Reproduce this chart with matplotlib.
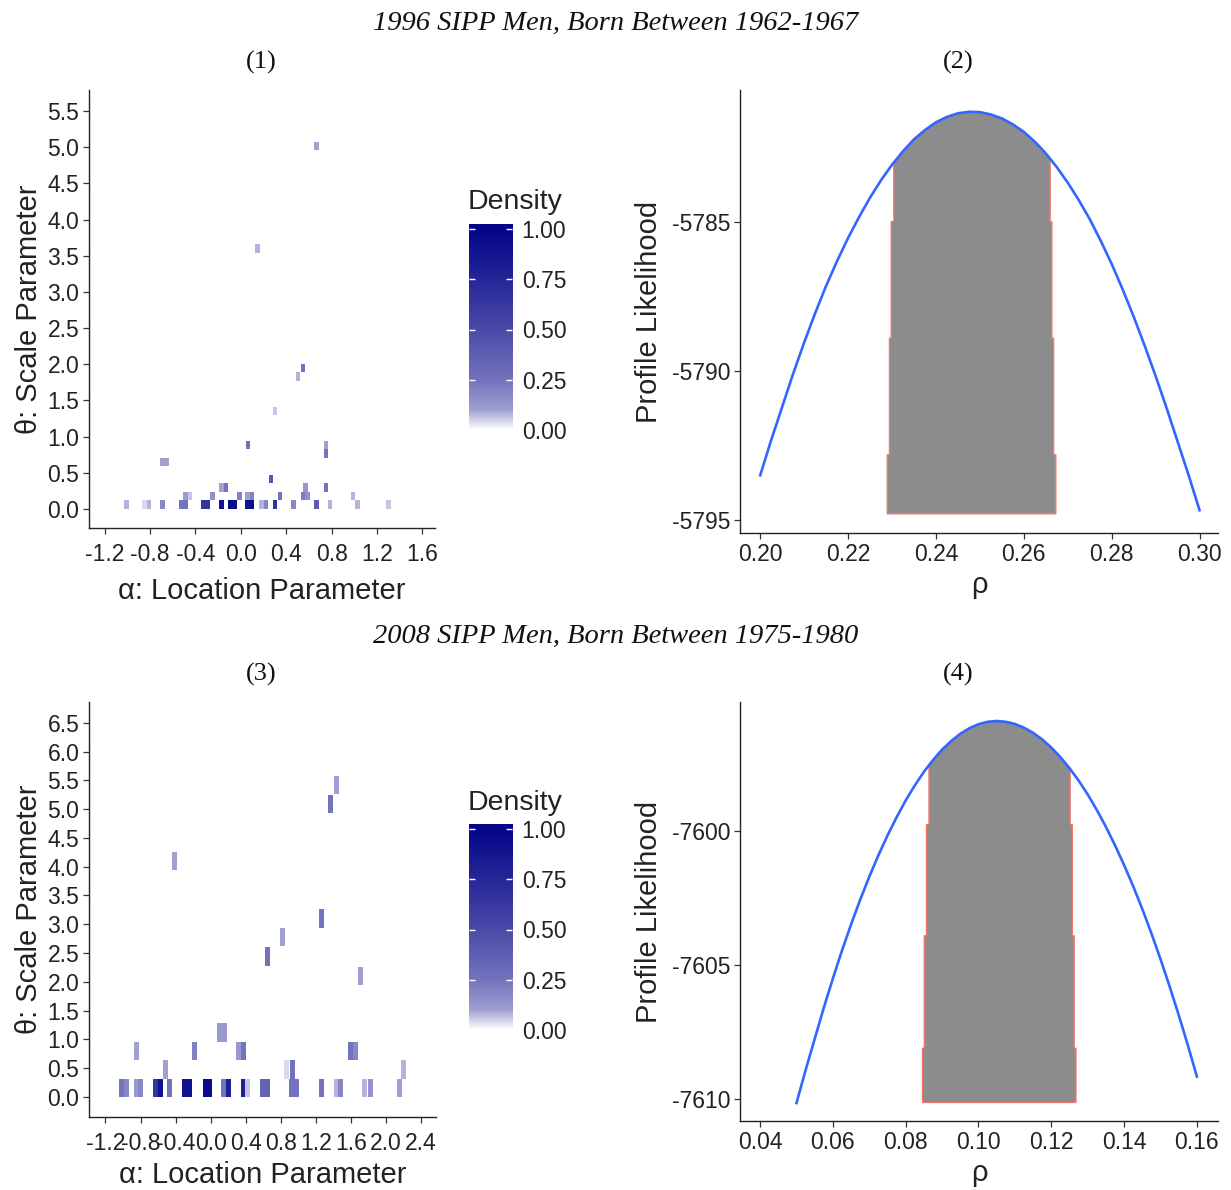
import numpy as np
import matplotlib
matplotlib.use("Agg")
import matplotlib.pyplot as plt
from matplotlib.colors import LinearSegmentedColormap, Normalize
from matplotlib.patches import Rectangle, Polygon
from matplotlib.collections import PatchCollection

plt.rcParams['font.family'] = ['Liberation Sans', 'DejaVu Sans']
plt.rcParams['axes.unicode_minus'] = False

# ---- panel (1): 1996 heatmap tiles (alpha, theta, density) ----
alpha_96 = [-1.01, -0.85, -0.81, -0.69, -0.525, -0.485, -0.33, -0.29, -0.17, -0.09, -0.05,
            0.06, 0.10, 0.18, 0.22, 0.30, 0.465, 0.665, 0.785, 1.03, 1.30,
            -0.49, -0.45, -0.25, -0.01, 0.06, 0.10, 0.345, 0.55, 0.59, 0.99,
            -0.17, -0.13, 0.57, 0.75,
            0.265, -0.69, -0.65, 0.75, 0.065, 0.75,
            0.30, 0.505, 0.55, 0.145, 0.665]
theta_96 = [0.059] * 21 + [0.177] * 10 + [0.295] * 4 + \
           [0.413, 0.649, 0.649, 0.767, 0.885, 0.885,
            1.357, 1.829, 1.947, 3.599, 5.015]
dens_96 = [0.08, 0.04, 0.08, 0.18, 0.25, 0.25, 0.65, 0.65, 0.90, 0.95, 0.95,
           0.90, 0.95, 0.08, 0.18, 0.65, 0.18, 0.40, 0.08, 0.08, 0.06,
           0.12, 0.06, 0.15, 0.20, 0.10, 0.20, 0.25, 0.22, 0.15, 0.08,
           0.10, 0.25, 0.13, 0.25,
           0.40, 0.10, 0.10, 0.25, 0.25, 0.10,
           0.06, 0.08, 0.25, 0.08, 0.10]

# ---- panel (3): 2008 heatmap tiles ----
alpha_08 = [-1.02, -0.96, -0.85, -0.795, -0.625, -0.573, -0.467, -0.30, -0.24, -0.06, -0.01,
            0.147, 0.206, 0.378, 0.423, 0.595, 0.65, 0.92, 0.977, 1.262, 1.43, 1.478,
            1.758, 1.818, 2.15,
            -0.518, 0.87, 0.932, 2.20,
            -0.85, -0.188, 0.312, 0.375, 1.596, 1.656,
            0.10, 0.155,
            1.43, 1.366, -0.412, 1.262, 0.817, 0.643, 1.707]
theta_08 = [0.16] * 25 + [0.48] * 4 + [0.80] * 6 + [1.12] * 2 + \
           [5.42, 5.09, 4.10, 3.10, 2.78, 2.44, 2.10]
dens_08 = [0.25, 0.18, 0.12, 0.18, 0.65, 0.90, 0.25, 0.90, 0.90, 0.95, 0.95,
           0.25, 0.80, 0.80, 0.06, 0.35, 0.35, 0.25, 0.25, 0.25, 0.08, 0.18,
           0.08, 0.13, 0.10,
           0.10, 0.04, 0.25, 0.08,
           0.10, 0.20, 0.12, 0.25, 0.25, 0.18,
           0.12, 0.12,
           0.10, 0.25, 0.10, 0.25, 0.10, 0.25, 0.10]

# ---- panel (2): profile likelihood 1996 ----
rho_96 = [0.2000, 0.2025, 0.2050, 0.2075, 0.2100, 0.2125, 0.2150, 0.2175, 0.2200, 0.2225,
          0.2250, 0.2275, 0.2300, 0.2325, 0.2350, 0.2375, 0.2400, 0.2425, 0.2450, 0.2475,
          0.2500, 0.2525, 0.2550, 0.2575, 0.2600, 0.2625, 0.2650, 0.2675, 0.2700, 0.2725,
          0.2750, 0.2775, 0.2800, 0.2825, 0.2850, 0.2875, 0.2900, 0.2925, 0.2950, 0.2975,
          0.3000]
ll_96 = [-5793.49, -5792.31, -5791.20, -5790.09, -5789.05, -5788.07, -5787.15, -5786.32,
         -5785.55, -5784.85, -5784.20, -5783.62, -5783.10, -5782.65, -5782.25, -5781.94,
         -5781.68, -5781.50, -5781.38, -5781.33, -5781.34, -5781.42, -5781.55, -5781.75,
         -5782.00, -5782.33, -5782.72, -5783.18, -5783.70, -5784.28, -5784.92, -5785.64,
         -5786.42, -5787.27, -5788.18, -5789.15, -5790.17, -5791.24, -5792.36, -5793.48,
         -5794.66]
ci_lo_96 = [0.2289, 0.2294, 0.2298, 0.2304]
ci_hi_96 = [0.2673, 0.2668, 0.2664, 0.2660]
ci_band_96 = [-5794.78, -5792.8, -5788.9, -5785.0]

# ---- panel (4): profile likelihood 2008 ----
rho_08 = [0.0500, 0.0525, 0.0550, 0.0575, 0.0600, 0.0625, 0.0650, 0.0675, 0.0700, 0.0725,
          0.0750, 0.0775, 0.0800, 0.0825, 0.0850, 0.0875, 0.0900, 0.0925, 0.0950, 0.0975,
          0.1000, 0.1025, 0.1050, 0.1075, 0.1100, 0.1125, 0.1150, 0.1175, 0.1200, 0.1225,
          0.1250, 0.1275, 0.1300, 0.1325, 0.1350, 0.1375, 0.1400, 0.1425, 0.1450, 0.1475,
          0.1500, 0.1525, 0.1550, 0.1575, 0.1600]
ll_08 = [-7610.15, -7608.93, -7607.76, -7606.60, -7605.50, -7604.46, -7603.48, -7602.56,
         -7601.70, -7600.90, -7600.16, -7599.48, -7598.85, -7598.29, -7597.78, -7597.34,
         -7596.95, -7596.63, -7596.36, -7596.15, -7596.00, -7595.91, -7595.88, -7595.91,
         -7595.99, -7596.13, -7596.32, -7596.57, -7596.87, -7597.23, -7597.64, -7598.10,
         -7598.62, -7599.20, -7599.83, -7600.52, -7601.26, -7602.05, -7602.90, -7603.81,
         -7604.77, -7605.79, -7606.86, -7607.98, -7609.16]
ci_lo_08 = [0.0846, 0.0851, 0.0857, 0.0864]
ci_hi_08 = [0.1268, 0.1263, 0.1258, 0.1252]
ci_band_08 = [-7610.13, -7608.1, -7603.9, -7599.75]

W, H = 1231, 1190
fig = plt.figure(figsize=(W / 100, H / 100), dpi=100)

cmap = LinearSegmentedColormap.from_list("dens", [
    (0.0, (1.0, 1.0, 1.0)), (0.1, (0.62, 0.62, 0.82)), (0.25, (0.45, 0.45, 0.74)),
    (0.5, (0.29, 0.29, 0.66)), (0.75, (0.15, 0.15, 0.60)), (1.0, (0.02, 0.02, 0.54))])
norm = Normalize(0, 1)


def rect(x0, y0, x1, y1):
    return [x0 / W, 1 - y1 / H, (x1 - x0) / W, (y1 - y0) / H]


def style(ax, xpad):
    for s in ['top', 'right']:
        ax.spines[s].set_visible(False)
    for s in ['left', 'bottom']:
        ax.spines[s].set_linewidth(1.0)
        ax.spines[s].set_color('#222222')
    ax.tick_params(length=4, width=0.9, color='#333333', labelsize=16.5, labelcolor='#222222', pad=3)
    ax.tick_params(axis='x', pad=xpad)


def heat_panel(ax, xs, ys, ds, w, h, xlim, ylim, xticks, yticks, xlabpad):
    tiles = [Rectangle((x - w / 2, y - h / 2), w, h) for x, y in zip(xs, ys)]
    pc = PatchCollection(tiles, cmap=cmap, norm=norm, edgecolor='none')
    pc.set_array(np.array(ds))
    ax.add_collection(pc)
    ax.set_xlim(*xlim)
    ax.set_ylim(*ylim)
    ax.set_xticks(xticks)
    ax.set_xticklabels([f"{t:.1f}" for t in xticks])
    ax.set_yticks(yticks)
    ax.set_yticklabels([f"{t:.1f}" for t in yticks])
    style(ax, 6.5)
    ax.set_xlabel("α: Location Parameter", fontsize=21, color='#222222', labelpad=xlabpad)
    ax.set_ylabel("θ: Scale Parameter", fontsize=21, color='#222222', labelpad=3)


def density_bar(r):
    cax = fig.add_axes(r)
    grad = np.clip(np.linspace(-0.025, 1.025, 400), 0, 1)[:, None]
    cax.imshow(grad, extent=(0, 1, -0.025, 1.025), origin='lower', aspect='auto', cmap=cmap, norm=norm)
    cax.set_xlim(0, 1)
    cax.set_ylim(-0.025, 1.025)
    for s in cax.spines.values():
        s.set_visible(False)
    cax.set_xticks([])
    ticks = [0, 0.25, 0.5, 0.75, 1.0]
    cax.set_yticks(ticks)
    cax.set_yticklabels([f"{t:.2f}" for t in ticks])
    cax.tick_params(axis='y', direction='in', left=True, right=True, labelleft=False, labelright=True,
                    color='white', length=4, width=1, labelsize=16.5, labelcolor='#222222', pad=7)


def like_panel(ax, rho, ll, lo, hi, band, xlim, ylim, xticks, yticks):
    verts = []
    for i in range(len(lo)):
        top = band[i + 1] if i + 1 < len(band) else np.interp(lo[i], rho, ll)
        verts += [(lo[i], band[i]), (lo[i], top)]
    for r, v in zip(rho, ll):
        if lo[-1] < r < hi[-1]:
            verts.append((r, v))
    for i in reversed(range(len(hi))):
        top = band[i + 1] if i + 1 < len(band) else np.interp(hi[i], rho, ll)
        verts += [(hi[i], top), (hi[i], band[i])]
    ax.add_patch(Polygon(verts, closed=True, facecolor='#8c8c8c', edgecolor='#f8766d', linewidth=0.9))
    ax.plot(rho, ll, color='#3366ff', linewidth=1.9)
    ax.set_xlim(*xlim)
    ax.set_ylim(*ylim)
    ax.set_xticks(xticks)
    ax.set_xticklabels([f"{t:.2f}" for t in xticks])
    ax.set_yticks(yticks)
    ax.set_yticklabels([f"{t:d}" for t in yticks])
    style(ax, 3.5)
    ax.set_xlabel("ρ", fontsize=21, color='#222222', labelpad=3)
    ax.set_ylabel("Profile Likelihood", fontsize=21, color='#222222', labelpad=6)


ax1 = fig.add_axes(rect(89, 90, 435, 528))
heat_panel(ax1, alpha_96, theta_96, dens_96, 0.04, 0.118, (-1.339, 1.712), (-0.262, 5.79),
           np.arange(-1.2, 1.61, 0.4), np.arange(0, 5.51, 0.5), 8)
density_bar(rect(469, 224, 512, 435))

ax2 = fig.add_axes(rect(740, 90, 1218, 533))
like_panel(ax2, rho_96, ll_96, ci_lo_96, ci_hi_96, ci_band_96, (0.1954, 0.3042), (-5795.42, -5780.6),
           [0.20, 0.22, 0.24, 0.26, 0.28, 0.30], [-5795, -5790, -5785])

ax3 = fig.add_axes(rect(89, 702, 436, 1117))
heat_panel(ax3, alpha_08, theta_08, dens_08, 0.057, 0.32, (-1.388, 2.57), (-0.347, 6.86),
           np.arange(-1.2, 2.41, 0.4), np.arange(0, 6.51, 0.5), 4.5)
density_bar(rect(469, 824, 512, 1035))

ax4 = fig.add_axes(rect(740, 702, 1218, 1121))
like_panel(ax4, rho_08, ll_08, ci_lo_08, ci_hi_08, ci_band_08, (0.0345, 0.1658), (-7610.82, -7595.17),
           [0.04, 0.06, 0.08, 0.10, 0.12, 0.14, 0.16], [-7610, -7605, -7600])

serif = ['Liberation Serif', 'DejaVu Serif']
fig.text(0.5, 1 - 23 / H, "1996 SIPP Men, Born Between 1962-1967", ha='center', va='center',
         fontsize=20.5, family=serif, style='italic', color='#111111')
fig.text(0.5, 1 - 636 / H, "2008 SIPP Men, Born Between 1975-1980", ha='center', va='center',
         fontsize=20.5, family=serif, style='italic', color='#111111')
for lab, x, y in [("(1)", 261, 62), ("(2)", 958, 62), ("(3)", 261, 674), ("(4)", 958, 674)]:
    fig.text(x / W, 1 - y / H, lab, ha='center', va='center', fontsize=19, family=serif, color='#111111')
for y in [202, 803]:
    fig.text(468 / W, 1 - y / H, "Density", ha='left', va='center', fontsize=20.5, color='#222222')

fig.savefig("out.png", dpi=100, facecolor='white')
